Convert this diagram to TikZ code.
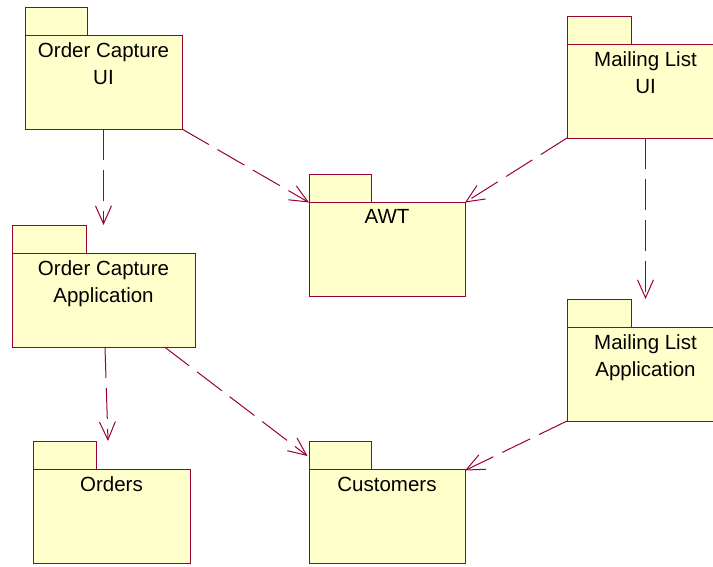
\documentclass[tikz,border=0pt]{standalone}
\usepackage{fontspec}
\setmainfont{Liberation Sans}
\usetikzlibrary{arrows.meta,calc}

\definecolor{pkgline}{RGB}{153,0,51}
\definecolor{pkgfill}{RGB}{255,255,204}

\tikzset{
  % invisible box covering a whole package (tab + body)
  pkg/.style={anchor=north west, inner sep=0pt, outer sep=0pt,
              minimum height=122pt, minimum width=#1},
  pkg/.default=157pt,
  folder/.style={draw=pkgline, fill=pkgfill, line width=1pt},
  pkgtext/.style={anchor=north, inner sep=0pt, align=center,
                  font=\fontsize{20.5pt}{26.5pt}\selectfont},
  dep/.style={draw=pkgline, line width=1pt,
              dash pattern=on 31pt off 10pt,
              -{Straight Barb[length=18pt,width=16pt]}},
}

\begin{document}
\begin{tikzpicture}[x=1pt, y=-1pt]
  \useasboundingbox (0,0) rectangle (713,566);

  % package boxes
  \node[pkg] (ocui) at (25,7) {};
  \node[pkg] (mlui) at (567,16) {};
  \node[pkg=156pt] (awt) at (309,174) {};
  \node[pkg=183pt] (ocapp) at (12,225) {};
  \node[pkg] (mlapp) at (567,299) {};
  \node[pkg] (orders) at (33,441) {};
  \node[pkg=156pt] (customers) at (309,441) {};

  % folder outlines: tab, then body
  \foreach \n/\t in {ocui/62, mlui/64, awt/62, ocapp/74,
                     mlapp/64, orders/63, customers/62} {
    \draw[folder] (\n.north west) rectangle ++(\t,28);
    \draw[folder] ($(\n.north west)+(0,28)$) rectangle (\n.south east);
  }

  % package names
  \node[pkgtext] (ocui-name) at ($(ocui.north)+(0,35.5)$) {Order Capture\\UI};
  \node[pkgtext] (mlui-name) at ($(mlui.north)+(0,35.5)$) {Mailing List\\UI};
  \node[pkgtext] (awt-name) at ($(awt.north)+(0,35.5)$) {AWT};
  \node[pkgtext] (ocapp-name) at ($(ocapp.north)+(0,35.5)$) {Order Capture\\Application};
  \node[pkgtext] (mlapp-name) at ($(mlapp.north)+(0,35.5)$) {Mailing List\\Application};
  \node[pkgtext] (orders-name) at ($(orders.north)+(0,35.5)$) {Orders};
  \node[pkgtext] (customers-name) at ($(customers.north)+(0,35.5)$) {Customers};

  % dependencies
  \draw[dep] (ocui.south) -- (ocui.south |- ocapp.north);
  \draw[dep] (ocui.south east) -- ($(awt.north west)+(0,28.5)$);
  \draw[dep] (mlui.south west) -- ($(awt.north east)+(0,28.5)$);
  \draw[dep] (mlui.south) -- (mlui.south |- mlapp.north);
  \draw[dep] ($(ocapp.south)+(1.5,0)$) -- ($(orders.north)+(-3.5,0)$);
  \draw[dep] ($(ocapp.south)+(61,0)$) -- ($(customers.north west)+(-1.5,15)$);
  \draw[dep] (mlapp.south west) -- ($(customers.north east)+(0,29.5)$);
\end{tikzpicture}
\end{document}
